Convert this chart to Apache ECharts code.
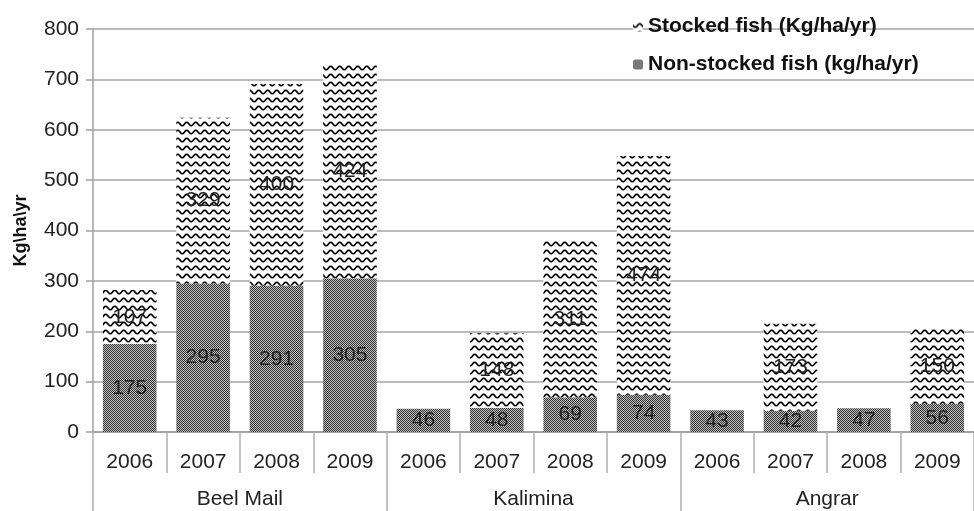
<!DOCTYPE html>
<html>
<head>
<meta charset="utf-8">
<script src="https://cdn.jsdelivr.net/npm/echarts@6/dist/echarts.min.js"></script>
<style>
  html, body { margin: 0; padding: 0; background: #fff; }
  #chart { width: 974px; height: 511px; }
</style>
</head>
<body>
<div id="chart"></div>
<script>
  // categories
  var years = ['2006', '2007', '2008', '2009', '2006', '2007', '2008', '2009', '2006', '2007', '2008', '2009'];
  var sites = ['Beel Mail', 'Kalimina', 'Angrar'];
  // values
  var nonStocked = [175, 295, 291, 305, 46, 48, 69, 74, 43, 42, 47, 56];
  var stocked = [107, 329, 400, 424, 0, 148, 311, 474, 0, 173, 0, 150];

  // fill patterns, drawn on small canvases
  function dotPattern() {
    var c = document.createElement('canvas');
    c.width = 4; c.height = 4;
    var g = c.getContext('2d');
    g.fillStyle = '#c4c4c4';
    g.fillRect(0, 0, 4, 4);
    g.fillStyle = '#2e2e2e';
    for (var y = 0; y < 4; y++) {
      for (var x = 0; x < 4; x++) {
        if ((x + y) % 2 === 0) g.fillRect(x, y, 1, 1);
      }
    }
    return c;
  }
  function wavePattern() {
    var c = document.createElement('canvas');
    c.width = 9; c.height = 8;
    var g = c.getContext('2d');
    g.fillStyle = '#ffffff';
    g.fillRect(0, 0, 9, 8);
    g.strokeStyle = '#000';
    g.lineWidth = 1.6;
    g.beginPath();
    for (var x = -1; x <= 10; x += 0.5) {
      var y = 4 + 1.8 * Math.sin(2 * Math.PI * x / 9);
      if (x === -1) g.moveTo(x, y); else g.lineTo(x, y);
    }
    g.stroke();
    return c;
  }

  var chart = echarts.init(document.getElementById('chart'));

  var labelCfg = {
    show: true,
    position: 'inside',
    fontSize: 21,
    color: '#222',
    formatter: function (p) { return p.value ? p.value : ''; }
  };

  var option = {
    animation: false,
    textStyle: { fontFamily: 'Liberation Sans, Arial, sans-serif' },
    grid: { left: 93, top: 29, width: 892, height: 403 },
    legend: {
      orient: 'vertical',
      left: 628,
      top: 11,
      itemWidth: 10,
      itemHeight: 10,
      itemGap: 17,
      textStyle: { fontSize: 21, fontWeight: 'bold', color: '#111' },
      data: ['Stocked fish (Kg/ha/yr)', 'Non-stocked fish (kg/ha/yr)']
    },
    xAxis: [
      {
        type: 'category',
        data: years,
        position: 'bottom',
        axisLine: { show: true, lineStyle: { color: '#a0a0a0', width: 1.5 } },
        axisTick: { show: true, interval: 0, length: 41, lineStyle: { color: '#b0b0b0', width: 1.5 } },
        axisLabel: { interval: 0, margin: 20, fontSize: 21, color: '#222' }
      },
      {
        type: 'category',
        data: sites,
        position: 'bottom',
        offset: 0,
        axisLine: { show: false },
        axisTick: { show: true, interval: 0, length: 80, lineStyle: { color: '#b0b0b0', width: 1.5 } },
        axisLabel: { interval: 0, margin: 57, fontSize: 21, color: '#222' }
      }
    ],
    yAxis: {
      type: 'value',
      min: 0,
      max: 800,
      interval: 100,
      name: 'Kg\\ha\\yr',
      nameLocation: 'middle',
      nameGap: 63,
      nameRotate: 90,
      nameTextStyle: { fontSize: 18, fontWeight: 'bold', color: '#111' },
      axisLine: { show: true, lineStyle: { color: '#a0a0a0', width: 1.5 } },
      axisTick: { show: true, length: 7, lineStyle: { color: '#a0a0a0', width: 1.5 } },
      axisLabel: { fontSize: 21, color: '#222', margin: 14 },
      splitLine: { lineStyle: { color: '#a6a6a6', width: 1.5 } }
    },
    series: [
      {
        name: 'Non-stocked fish (kg/ha/yr)',
        type: 'bar',
        stack: 'fish',
        xAxisIndex: 0,
        barCategoryGap: '27%',
        itemStyle: { color: { image: dotPattern(), repeat: 'repeat' } },
        label: labelCfg,
        data: nonStocked
      },
      {
        name: 'Stocked fish (Kg/ha/yr)',
        type: 'bar',
        stack: 'fish',
        xAxisIndex: 0,
        barCategoryGap: '27%',
        itemStyle: { color: { image: wavePattern(), repeat: 'repeat' } },
        label: labelCfg,
        data: stocked
      }
    ]
  };

  chart.setOption(option);
</script>
</body>
</html>
